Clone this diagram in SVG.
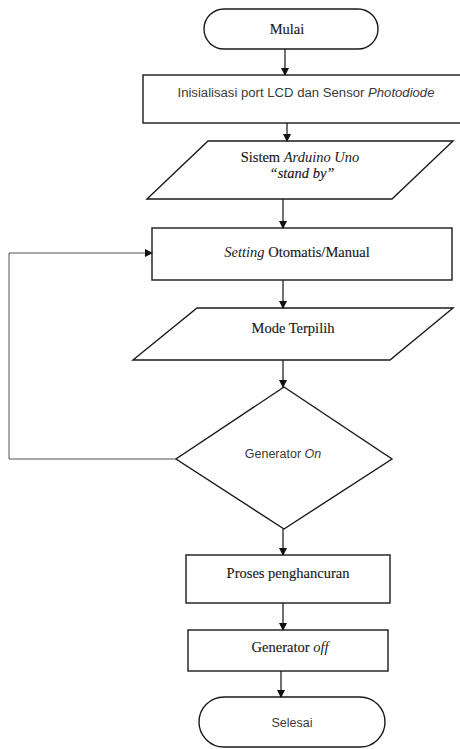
<svg xmlns="http://www.w3.org/2000/svg" width="460" height="749" viewBox="0 0 460 749">
<style>
.shape{fill:#fff;stroke:#1a1a1a;stroke-width:1.4}
.serif{font-family:"Liberation Serif","Times New Roman",serif;font-size:14.5px;fill:#1a1a1a;stroke:#1a1a1a;stroke-width:0.15;text-anchor:middle}
.sans{font-family:"Liberation Sans",Arial,sans-serif;font-size:12.5px;fill:#3a3a3a;text-anchor:middle}
.conn{fill:none;stroke:#111;stroke-width:1.2}
.loop{fill:none;stroke:#555;stroke-width:1}
</style>
<defs>
<marker id="ah" markerWidth="8" markerHeight="8" refX="7" refY="4" orient="auto" markerUnits="userSpaceOnUse">
<path d="M0,0 L8,4 L0,8 Z" fill="#111"/>
</marker>
</defs>
<rect width="460" height="749" fill="#fff"/>
<g id="mulai">
<rect class="shape" x="204" y="9" width="174" height="40" rx="20" ry="20"/>
<text class="serif" x="287" y="34">Mulai</text>
</g>
<g id="inisialisasi">
<rect class="shape" x="143" y="75" width="330" height="48"/>
<text class="sans" x="306" y="97" textLength="257" lengthAdjust="spacingAndGlyphs">Inisialisasi port LCD dan Sensor <tspan font-style="italic">Photodiode</tspan></text>
</g>
<g id="sistem">
<polygon class="shape" points="208,141 453,141 392,199 147,199"/>
<text class="serif" x="300" y="162">Sistem <tspan font-style="italic" stroke-width="0">Arduino Uno</tspan></text>
<text class="serif" x="302" y="178" font-style="italic" stroke-width="0">“stand by”</text>
</g>
<g id="setting">
<rect class="shape" x="152" y="228" width="300" height="52"/>
<text class="serif" x="297" y="257"><tspan font-style="italic" stroke-width="0">Setting</tspan> Otomatis/Manual</text>
</g>
<g id="mode">
<polygon class="shape" points="197,308 453,308 390,360 133,360"/>
<text class="serif" x="293" y="333">Mode Terpilih</text>
</g>
<g id="generator-on">
<polygon class="shape" points="284,387 392,459 284,529 176,459"/>
<text class="sans" x="283" y="458" font-size="13">Generator <tspan font-style="italic">On</tspan></text>
</g>
<g id="proses">
<rect class="shape" x="186" y="555" width="204" height="48"/>
<text class="serif" x="288" y="578">Proses penghancuran</text>
</g>
<g id="generator-off">
<rect class="shape" x="188" y="630" width="200" height="41"/>
<text class="serif" x="290" y="652">Generator <tspan font-style="italic" stroke-width="0">off</tspan></text>
</g>
<g id="selesai">
<rect class="shape" x="199" y="697" width="186" height="50" rx="25" ry="25"/>
<text class="sans" x="292" y="727" font-size="13">Selesai</text>
</g>
<g id="connectors">
<line class="conn" x1="285" y1="49" x2="285" y2="75" marker-end="url(#ah)"/>
<line class="conn" x1="287" y1="123" x2="287" y2="141" marker-end="url(#ah)"/>
<line class="conn" x1="283" y1="199" x2="283" y2="228" marker-end="url(#ah)"/>
<line class="conn" x1="283" y1="280" x2="283" y2="308" marker-end="url(#ah)"/>
<line class="conn" x1="283" y1="360" x2="283" y2="387" marker-end="url(#ah)"/>
<line class="conn" x1="283" y1="529" x2="283" y2="555" marker-end="url(#ah)"/>
<line class="conn" x1="283" y1="603" x2="283" y2="630" marker-end="url(#ah)"/>
<line class="conn" x1="281" y1="671" x2="281" y2="697" marker-end="url(#ah)"/>
<polyline class="loop" points="176,459 9,459 9,253 152,253" marker-end="url(#ah)"/>
</g>
</svg>
